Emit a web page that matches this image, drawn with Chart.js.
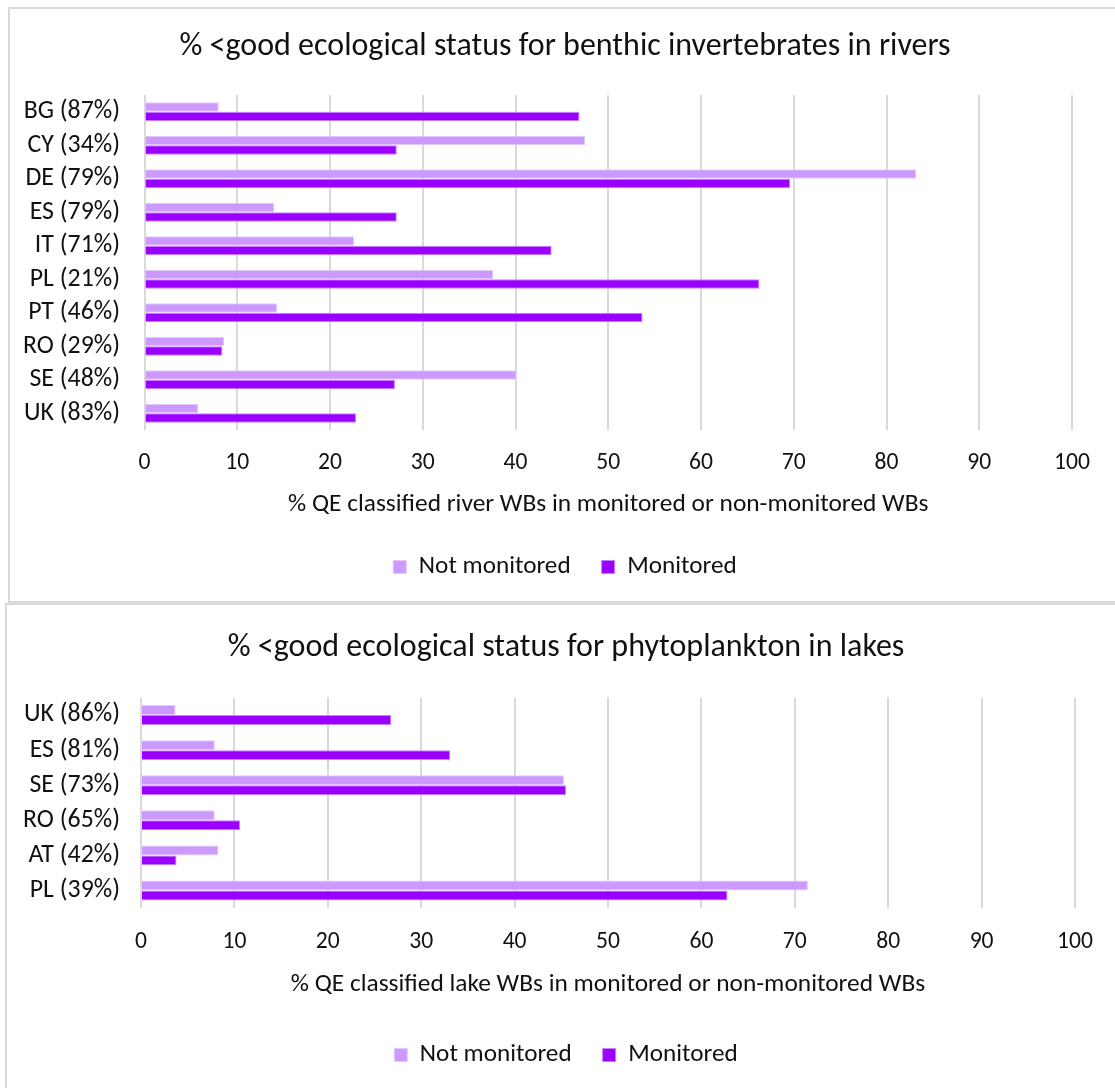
<!DOCTYPE html>
<html>
<head>
<meta charset="utf-8">
<script src="https://cdn.jsdelivr.net/npm/chart.js@4/dist/chart.umd.min.js"></script>
<style>
    html, body { margin: 0; padding: 0; background: #fff; overflow: hidden; }
    body { width: 1115px; height: 1088px; position: relative; }
    .panel { position: absolute; box-sizing: border-box; border: 2px solid #d9d9d9; background: #fff; }
    #panelRivers { left: 8px; top: 7px; width: 1200px; height: 596px; }
    #panelLakes { left: 5px; top: 603px; width: 1200px; height: 600px; }
    .wrap { position: absolute; left: 0; width: 1115px; }
    #wrapRivers { top: 0; height: 602px; }
    #wrapLakes { top: 603px; height: 485px; }
</style>
</head>
<body>
<div class="panel" id="panelRivers"></div>
<div class="panel" id="panelLakes"></div>
<div class="wrap" id="wrapRivers"><canvas id="rivers"></canvas></div>
<div class="wrap" id="wrapLakes"><canvas id="lakes"></canvas></div>

<script>
// benthic invertebrates in rivers
const riverLabels = ['BG (87%)', 'CY (34%)', 'DE (79%)', 'ES (79%)', 'IT (71%)', 'PL (21%)', 'PT (46%)', 'RO (29%)', 'SE (48%)', 'UK (83%)'];
const riverNotMonitored = [8.0, 47.5, 83.2, 14.0, 22.6, 37.6, 14.3, 8.6, 40.1, 5.8];
const riverMonitored = [46.9, 27.2, 69.6, 27.2, 43.9, 66.3, 53.7, 8.4, 27.0, 22.8];

// phytoplankton in lakes
const lakeLabels = ['UK (86%)', 'ES (81%)', 'SE (73%)', 'RO (65%)', 'AT (42%)', 'PL (39%)'];
const lakeNotMonitored = [3.7, 7.9, 45.3, 7.9, 8.3, 71.4];
const lakeMonitored = [26.8, 33.1, 45.5, 10.6, 3.8, 62.8];

const xTicks = [0, 10, 20, 30, 40, 50, 60, 70, 80, 90, 100];
const seriesNames = ['Not monitored', 'Monitored'];

Chart.defaults.font.family = 'Carlito, Calibri, Lato, sans-serif';
Chart.defaults.color = '#111';
Chart.defaults.animation = false;

// title, tick, axis title and legend sizes (px)
const TITLE_SIZE = 32;
const TICK_SIZE = 23.6;
const LABEL_SIZE = 25.8;
const AXIS_TITLE_SIZE = 25.4;
const LEGEND_SIZE = 25.2;

// left padding only shifts the centred title/legend, so let the
// category labels use the whole strip left of the plot
const labelRoom = {
    id: 'labelRoom',
    afterLayout: (chart) => { chart.scales.y.left = 0 }
};

function createChart(ctx, cfg) {
    return new Chart(ctx, {
        type: 'bar',
        data: {
            labels: cfg.labels,
            datasets: [{
                label: seriesNames[0],
                data: cfg.notMonitored,
                backgroundColor: '#cc99ff',
                borderColor: '#e3c9ff',
                borderWidth: 1,
                categoryPercentage: 0.57,
                barPercentage: 1
            }, {
                label: seriesNames[1],
                data: cfg.monitored,
                backgroundColor: '#9900ff',
                borderColor: '#c680ff',
                borderWidth: 1,
                categoryPercentage: 0.57,
                barPercentage: 1
            }]
        },
        options: {
            indexAxis: 'y',
            responsive: true,
            maintainAspectRatio: false,
            layout: { padding: { left: cfg.padLeft, right: 1115 - cfg.plotRight, top: 0, bottom: cfg.padBottom } },
            scales: {
                x: {
                    min: 0,
                    max: 100,
                    afterBuildTicks: (scale) => { scale.ticks = xTicks.map(v => ({ value: v })) },
                    afterFit: (scale) => { scale.height = cfg.xHeight },
                    grid: { color: '#d9d9d9', lineWidth: 2, drawTicks: false },
                    border: { display: false },
                    ticks: { padding: cfg.tickPad, font: { size: TICK_SIZE }, color: '#111' },
                    title: {
                        display: true,
                        text: cfg.xTitle,
                        font: { size: AXIS_TITLE_SIZE },
                        color: '#111',
                        padding: { top: 0, bottom: cfg.xTitlePad }
                    }
                },
                y: {
                    afterFit: (scale) => { scale.width = cfg.plotLeft - cfg.padLeft },
                    grid: { display: false, drawTicks: false },
                    border: { display: false },
                    ticks: {
                        autoSkip: false,
                        padding: cfg.plotLeft - 120,
                        font: { size: LABEL_SIZE },
                        color: '#111'
                    }
                }
            },
            plugins: {
                title: {
                    display: true,
                    text: cfg.title,
                    font: { size: TITLE_SIZE, weight: 'normal' },
                    color: '#111',
                    padding: {
                        top: cfg.titleCenter - TITLE_SIZE * 0.6,
                        bottom: cfg.plotTop - cfg.titleCenter - TITLE_SIZE * 0.6
                    }
                },
                legend: {
                    position: 'bottom',
                    labels: {
                        boxWidth: 13,
                        boxHeight: 13,
                        padding: 31,
                        font: { size: LEGEND_SIZE },
                        color: '#111'
                    }
                },
                tooltip: { enabled: false }
            }
        },
        plugins: [labelRoom]
    });
}

createChart(document.getElementById('rivers').getContext('2d'), {
    labels: riverLabels,
    notMonitored: riverNotMonitored,
    monitored: riverMonitored,
    title: '% <good ecological status for benthic invertebrates in rivers',
    xTitle: '% QE classified river WBs in monitored or non-monitored WBs',
    titleCenter: 47,
    plotTop: 95,
    padLeft: 58,
    plotLeft: 144.5,
    plotRight: 1072,
    xHeight: 93.4,
    tickPad: 18.8,
    xTitlePad: 3.2,
    padBottom: 12.4
});

createChart(document.getElementById('lakes').getContext('2d'), {
    labels: lakeLabels,
    notMonitored: lakeNotMonitored,
    monitored: lakeMonitored,
    title: '% <good ecological status for phytoplankton in lakes',
    xTitle: '% QE classified lake WBs in monitored or non-monitored WBs',
    titleCenter: 45,
    plotTop: 94.5,
    padLeft: 57,
    plotLeft: 141,
    plotRight: 1075,
    xHeight: 103.4,
    tickPad: 19.8,
    xTitlePad: 11.2,
    padBottom: 10.4
});
</script>
</body>
</html>
